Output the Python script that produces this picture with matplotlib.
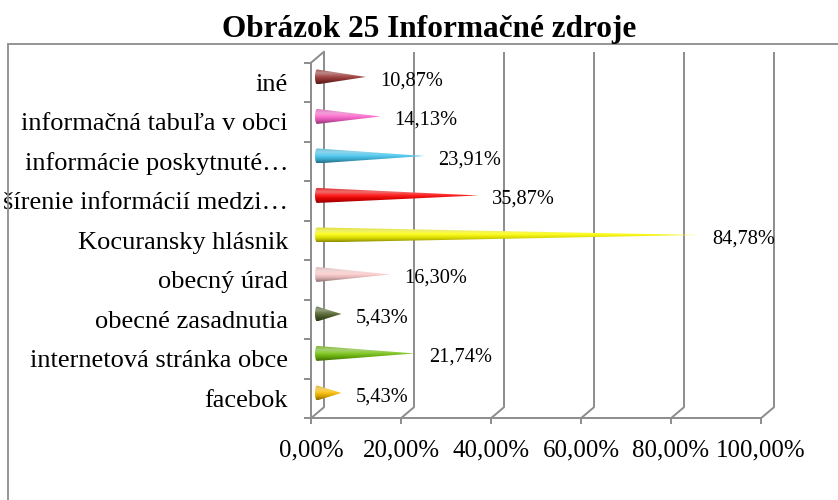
import numpy as np
import matplotlib
matplotlib.use("Agg")
import matplotlib.pyplot as plt
from matplotlib.patches import Polygon, Rectangle
from matplotlib.transforms import ScaledTranslation
from matplotlib.colors import to_rgb

plt.rcParams['font.family'] = ['Liberation Serif', 'DejaVu Serif']

# ---- data (bottom to top, as in the chart) ----
title = "Obrázok 25 Informačné zdroje"
categories = ['facebok', 'internetová stránka obce', 'obecné zasadnutia',
              'obecný úrad', 'Kocuransky hlásnik', 'šírenie informácií medzi…',
              'informácie poskytnuté…', 'informačná tabuľa v obci', 'iné']
values = [5.43, 21.74, 5.43, 16.30, 84.78, 35.87, 23.91, 14.13, 10.87]
colors = ['#ffc000', '#74c30c', '#4f6228', '#ffcccc', '#ffff00',
          '#ff0000', '#45c8f2', '#ff62cc', '#9b3634']
xticks = [0, 20, 40, 60, 80, 100]
xticklabels = ['0,00%', '20,00%', '40,00%', '60,00%', '80,00%', '100,00%']

GRAY = '#8c8c8c'
W, H = 838, 500
fig = plt.figure(figsize=(W / 100, H / 100), dpi=100)
fig.patch.set_facecolor('white')

# chart-area border (extends past right/bottom edges like the source)
fig.add_artist(Rectangle((8 / W, -20 / H), (870 - 8) / W, (H + 20 - 44) / H,
                         transform=fig.transFigure, fill=False,
                         edgecolor=GRAY, lw=1.3, clip_on=False))

left, right = 311, 761
top, bottom = 62.7, 418.2
ax = fig.add_axes([left / W, (H - bottom) / H, (right - left) / W, (bottom - top) / H])
ax.set_facecolor('none')

def offset(dx, dy):
    return ax.transData + ScaledTranslation(dx / 100, dy / 100, fig.dpi_scale_trans)

back_tr = offset(13, 11)
cone_tr = offset(6, 5.5)
n = len(categories)
ymin, ymax = -0.5, n - 0.5

# back wall gridlines
for x in xticks:
    ax.plot([x, x], [ymin, ymax], color=GRAY, lw=1.4, transform=back_tr,
            clip_on=False, zorder=1, solid_capstyle='butt')
    # floor diagonals
    ax.annotate('', xy=(x, ymin), xycoords='data', xytext=(13, 11),
                textcoords='offset pixels',
                arrowprops=dict(arrowstyle='-', color=GRAY, lw=1.4,
                                shrinkA=0, shrinkB=0), zorder=1)
# top-left corner diagonal
ax.annotate('', xy=(0, ymax), xycoords='data', xytext=(13, 11),
            textcoords='offset pixels',
            arrowprops=dict(arrowstyle='-', color=GRAY, lw=1.4,
                            shrinkA=0, shrinkB=0), zorder=1)

# cones
h = 0.19
a = 0.45
N = 64
t = np.linspace(0, 1, N)
wmix = np.interp(t, [0, 0.12, 0.3, 0.5, 0.75, 1], [0.05, 0.3, 0.45, 0.15, 0.0, 0.0])
dark = np.interp(t, [0, 0.5, 0.75, 1], [0.85, 1.0, 0.85, 0.55])
theta = np.linspace(np.pi / 2, 3 * np.pi / 2, 24)
for i, (v, c) in enumerate(zip(values, colors)):
    base = np.array(to_rgb(c))
    rgb = (base[None, :] * (1 - wmix[:, None]) + wmix[:, None]) * dark[:, None]
    img = np.repeat(rgb[:, None, :], 2, axis=1)
    xs = list(a * np.cos(theta)) + [v]
    ys = list(i + h * np.sin(theta)) + [i]
    poly = Polygon(np.column_stack([xs, ys]), closed=True, facecolor='none',
                   edgecolor='none', transform=cone_tr)
    ax.add_patch(poly)
    im = ax.imshow(img, extent=[-a, v, i - h, i + h], aspect='auto',
                   interpolation='bilinear', origin='upper', zorder=3)
    im.set_transform(cone_tr)
    im.set_clip_path(poly)
    lbl = f"{v:.2f}".replace('.', ',') + '%'
    ax.text(v, i, lbl, transform=offset(20, 1.5), ha='left', va='center',
            fontsize=14.7, color='black', zorder=4)

ax.set_xlim(0, 100)
ax.set_ylim(ymin, ymax)

# axes styling
for s in ['top', 'right']:
    ax.spines[s].set_visible(False)
for s in ['left', 'bottom']:
    ax.spines[s].set_color(GRAY)
    ax.spines[s].set_linewidth(1.4)
ax.set_xticks(xticks)
ax.set_xticklabels(xticklabels, fontsize=17.9)
ax.tick_params(axis='x', length=4.2, width=1.4, color=GRAY, pad=11.2)
ax.set_yticks(range(n))
ax.set_yticklabels(categories, fontsize=19)
ax.tick_params(axis='y', which='major', length=0, pad=16.5)
ax.set_yticks(np.arange(n + 1) - 0.5, minor=True)
ax.tick_params(axis='y', which='minor', length=5, width=1.4, color=GRAY)

fig.text(429.5 / W, 1 - 37 / H, title, ha='center', va='baseline',
         fontsize=22.5, fontweight='bold')

fig.savefig('out.png', dpi=100)
